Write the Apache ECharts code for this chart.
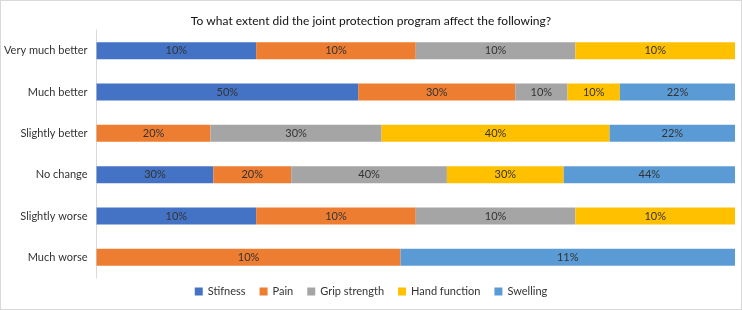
<!DOCTYPE html>
<html>
<head>
<meta charset="utf-8">
<script src="https://cdn.jsdelivr.net/npm/echarts@6/dist/echarts.min.js"></script>
<style>
    html, body { margin: 0; padding: 0; background: #fff; }
    #chart { width: 740px; height: 308px; border: 1px solid #d9d9d9; }
</style>
</head>
<body>
<div id="chart"></div>
<script>
    var categories = ['Very much better', 'Much better', 'Slightly better', 'No change', 'Slightly worse', 'Much worse'];
    var seriesNames = ['Stifness', 'Pain', 'Grip strength', 'Hand function', 'Swelling'];
    var stifness = [10, 50, 0, 30, 10, 0];
    var pain = [10, 30, 20, 20, 10, 10];
    var grip = [10, 10, 30, 40, 10, 0];
    var hand = [10, 10, 40, 30, 10, 0];
    var swelling = [0, 22, 22, 44, 0, 11];
    var colors = ['#4472C4', '#ED7D31', '#A5A5A5', '#FFC000', '#5B9BD5'];

    var raw = [stifness, pain, grip, hand, swelling];
    // each row is drawn as 100% stacked, labels keep the raw values
    var totals = categories.map(function (c, i) {
        return raw.reduce(function (s, arr) { return s + arr[i]; }, 0);
    });

    var series = raw.map(function (arr, k) {
        return {
            name: seriesNames[k],
            type: 'bar',
            stack: 'all',
            barWidth: 17,
            itemStyle: { color: colors[k] },
            label: {
                show: true,
                position: 'inside',
                color: '#333',
                fontSize: 11,
                fontFamily: 'Lato',
                formatter: function (p) {
                    var v = arr[p.dataIndex];
                    return v ? v + '%' : '';
                }
            },
            data: arr.map(function (v, i) { return v / totals[i] * 100; })
        };
    });

    var chart = echarts.init(document.getElementById('chart'));
    chart.setOption({
        animation: false,
        textStyle: { fontFamily: 'Lato' },
        title: {
            text: 'To what extent did the joint protection program affect the following?',
            left: 'center',
            top: 9,
            textStyle: { fontSize: 12, fontWeight: 'normal', color: '#111', fontFamily: 'Lato' }
        },
        legend: {
            data: seriesNames,
            bottom: 7,
            left: 'center',
            itemWidth: 8,
            itemHeight: 8,
            itemGap: 14,
            icon: 'rect',
            textStyle: { fontSize: 11, color: '#333', fontFamily: 'Lato' }
        },
        grid: { left: 95, right: 6, top: 29, bottom: 31 },
        xAxis: {
            type: 'value',
            min: 0,
            max: 100,
            show: false
        },
        yAxis: {
            type: 'category',
            data: categories,
            inverse: true,
            axisLine: { lineStyle: { color: '#d9d9d9' } },
            axisTick: { show: false },
            axisLabel: { fontSize: 11, color: '#333', margin: 9, fontFamily: 'Lato' }
        },
        series: series
    });
</script>
</body>
</html>
